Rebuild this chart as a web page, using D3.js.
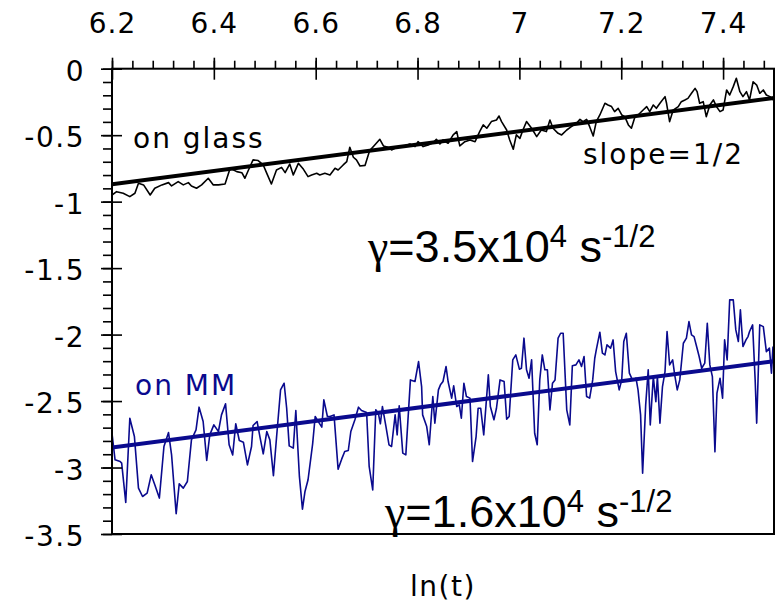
<!DOCTYPE html>
<html>
<head>
<meta charset="utf-8">
<script src="https://cdn.jsdelivr.net/npm/d3@7"></script>
<style>
  html, body { margin: 0; padding: 0; background: #fff; }
  svg { display: block; }
</style>
</head>
<body>
<svg id="chart" width="776" height="604"></svg>
<script>
// Axis tick labels
const xTicks = [6.2, 6.4, 6.6, 6.8, 7, 7.2, 7.4];
const yTicks = [0, -0.5, -1, -1.5, -2, -2.5, -3, -3.5];

// Signal on glass versus ln(t)
const glassLnT = [
  6.200, 6.209, 6.222, 6.235, 6.245, 6.252, 6.262, 6.275, 6.284, 6.298,
  6.311, 6.317, 6.330, 6.340, 6.350, 6.356, 6.366, 6.376, 6.389, 6.399,
  6.409, 6.422, 6.432, 6.445, 6.455, 6.461, 6.468, 6.477, 6.487, 6.497,
  6.504, 6.513, 6.523, 6.533, 6.540, 6.549, 6.556, 6.566, 6.576, 6.585,
  6.592, 6.602, 6.608, 6.618, 6.628, 6.638, 6.644, 6.654, 6.661, 6.667,
  6.674, 6.680, 6.687, 6.697, 6.706, 6.716, 6.726, 6.733, 6.742, 6.749,
  6.759, 6.772, 6.785, 6.795, 6.801, 6.811, 6.821, 6.831, 6.837, 6.844,
  6.850, 6.860, 6.870, 6.877, 6.883, 6.893, 6.903, 6.913, 6.922, 6.929,
  6.936, 6.945, 6.955, 6.960, 6.965, 6.975, 6.981, 6.988, 6.994, 7.001,
  7.007, 7.014, 7.024, 7.034, 7.043, 7.053, 7.060, 7.066, 7.076, 7.083,
  7.093, 7.102, 7.112, 7.119, 7.125, 7.132, 7.138, 7.145, 7.151, 7.158,
  7.168, 7.174, 7.181, 7.187, 7.194, 7.201, 7.207, 7.214, 7.220, 7.227,
  7.233, 7.243, 7.250, 7.256, 7.263, 7.269, 7.276, 7.286, 7.289, 7.295,
  7.302, 7.312, 7.318, 7.325, 7.331, 7.338, 7.345, 7.349, 7.354, 7.361,
  7.367, 7.374, 7.381, 7.387, 7.394, 7.400, 7.407, 7.413, 7.420, 7.426,
  7.433, 7.439, 7.446, 7.452, 7.459, 7.466, 7.472, 7.479, 7.485, 7.492,
  7.498
];
const glassSignal = [
  -0.950, -0.925, -0.937, -0.962, -0.937, -0.862, -0.874, -0.950, -0.899, -0.874,
  -0.857, -0.882, -0.849, -0.874, -0.857, -0.882, -0.899, -0.874, -0.824, -0.874,
  -0.874, -0.867, -0.749, -0.774, -0.782, -0.824, -0.762, -0.686, -0.691, -0.724,
  -0.787, -0.867, -0.762, -0.742, -0.782, -0.717, -0.799, -0.712, -0.757, -0.812,
  -0.799, -0.787, -0.799, -0.787, -0.799, -0.749, -0.762, -0.724, -0.699, -0.591,
  -0.666, -0.686, -0.732, -0.727, -0.616, -0.574, -0.531, -0.581, -0.591, -0.611,
  -0.591, -0.586, -0.566, -0.586, -0.549, -0.586, -0.574, -0.556, -0.531, -0.566,
  -0.536, -0.561, -0.498, -0.473, -0.581, -0.549, -0.536, -0.549, -0.473, -0.423,
  -0.448, -0.398, -0.386, -0.356, -0.398, -0.461, -0.536, -0.606, -0.498, -0.524,
  -0.461, -0.398, -0.448, -0.511, -0.461, -0.473, -0.386, -0.448, -0.486, -0.498,
  -0.461, -0.436, -0.411, -0.381, -0.398, -0.381, -0.436, -0.506, -0.398, -0.348,
  -0.260, -0.273, -0.285, -0.323, -0.298, -0.348, -0.361, -0.423, -0.448, -0.361,
  -0.348, -0.311, -0.285, -0.323, -0.273, -0.298, -0.260, -0.210, -0.260, -0.398,
  -0.311, -0.285, -0.248, -0.235, -0.223, -0.185, -0.148, -0.173, -0.260, -0.248,
  -0.361, -0.273, -0.235, -0.285, -0.323, -0.311, -0.160, -0.198, -0.135, -0.072,
  -0.173, -0.210, -0.173, -0.235, -0.098, -0.123, -0.185, -0.160, -0.198, -0.210,
  -0.235
];

// Signal on MM versus ln(t)
const mmLnT = [
  6.200, 6.206, 6.216, 6.219, 6.227, 6.235, 6.244, 6.252, 6.260, 6.269,
  6.277, 6.284, 6.293, 6.302, 6.311, 6.317, 6.326, 6.332, 6.340, 6.348,
  6.356, 6.365, 6.371, 6.379, 6.386, 6.392, 6.400, 6.409, 6.415, 6.423,
  6.430, 6.437, 6.443, 6.450, 6.458, 6.466, 6.474, 6.477, 6.485, 6.491,
  6.497, 6.504, 6.510, 6.517, 6.523, 6.531, 6.538, 6.543, 6.548, 6.556,
  6.561, 6.568, 6.574, 6.579, 6.585, 6.594, 6.599, 6.607, 6.612, 6.616,
  6.623, 6.628, 6.636, 6.644, 6.651, 6.657, 6.664, 6.669, 6.677, 6.684,
  6.690, 6.700, 6.705, 6.712, 6.718, 6.723, 6.727, 6.731, 6.738, 6.744,
  6.749, 6.756, 6.760, 6.764, 6.771, 6.777, 6.786, 6.795, 6.802, 6.808,
  6.810, 6.818, 6.823, 6.830, 6.834, 6.841, 6.845, 6.850, 6.856, 6.860,
  6.867, 6.871, 6.877, 6.882, 6.886, 6.891, 6.896, 6.903, 6.908, 6.915,
  6.919, 6.924, 6.930, 6.939, 6.943, 6.950, 6.955, 6.962, 6.970, 6.975,
  6.980, 6.987, 6.993, 7.000, 7.004, 7.009, 7.014, 7.019, 7.024, 7.030,
  7.035, 7.040, 7.045, 7.050, 7.055, 7.060, 7.065, 7.070, 7.076, 7.081,
  7.086, 7.093, 7.099, 7.104, 7.111, 7.117, 7.122, 7.127, 7.132, 7.138,
  7.144, 7.148, 7.151, 7.158, 7.163, 7.168, 7.172, 7.179, 7.184, 7.189,
  7.196, 7.201, 7.205, 7.210, 7.216, 7.222, 7.229, 7.233, 7.238, 7.242,
  7.248, 7.253, 7.257, 7.263, 7.268, 7.271, 7.276, 7.281, 7.286, 7.290,
  7.295, 7.301, 7.305, 7.310, 7.315, 7.322, 7.328, 7.333, 7.338, 7.343,
  7.348, 7.353, 7.358, 7.364, 7.369, 7.374, 7.379, 7.384, 7.388, 7.394,
  7.399, 7.403, 7.408, 7.413, 7.420, 7.425, 7.430, 7.434, 7.439, 7.445,
  7.449, 7.452, 7.458, 7.463, 7.466, 7.472, 7.479, 7.485, 7.491, 7.495,
  7.498
];
const mmSignal = [
  -2.742, -2.942, -2.955, -2.967, -3.263, -2.629, -2.767, -3.155, -3.218, -3.193,
  -3.055, -3.130, -3.230, -2.842, -2.737, -2.905, -3.348, -3.123, -3.155, -3.105,
  -2.792, -2.717, -2.546, -2.654, -2.947, -2.754, -2.679, -2.729, -2.604, -2.521,
  -2.829, -2.905, -2.671, -2.797, -2.809, -2.980, -2.842, -2.684, -2.654, -2.779,
  -2.897, -2.729, -2.792, -3.062, -2.779, -2.416, -2.366, -2.554, -2.837, -2.854,
  -2.571, -3.067, -3.313, -3.180, -3.092, -2.822, -2.616, -2.666, -2.696, -2.491,
  -2.616, -2.616, -2.604, -3.012, -2.937, -2.879, -2.872, -2.729, -2.641, -2.546,
  -2.571, -2.586, -2.992, -3.168, -2.566, -2.591, -2.671, -2.541, -2.692, -2.829,
  -2.842, -2.604, -2.754, -2.536, -2.892, -2.905, -2.341, -2.353, -2.203, -2.391,
  -2.604, -2.692, -2.829, -2.466, -2.666, -2.416, -2.378, -2.353, -2.240, -2.353,
  -2.478, -2.386, -2.541, -2.529, -2.629, -2.366, -2.466, -2.478, -2.955, -2.767,
  -2.554, -2.554, -2.754, -2.303, -2.541, -2.641, -2.554, -2.341, -2.353, -2.636,
  -2.616, -2.190, -2.153, -2.260, -2.253, -2.027, -2.265, -2.328, -2.190, -2.742,
  -2.829, -2.341, -2.153, -2.265, -2.265, -2.566, -2.366, -2.341, -2.027, -1.990,
  -1.990, -2.566, -2.679, -2.235, -2.228, -2.190, -2.240, -2.165, -2.466, -2.478,
  -2.341, -2.178, -2.115, -1.982, -2.140, -2.153, -2.077, -2.102, -2.040, -2.278,
  -2.416, -2.341, -2.052, -1.990, -2.290, -2.341, -2.328, -2.416, -2.604, -3.042,
  -2.529, -2.265, -2.679, -2.316, -2.504, -2.316, -2.666, -2.391, -2.278, -1.977,
  -2.228, -2.190, -2.303, -2.416, -2.341, -2.065, -2.027, -1.902, -2.002, -2.015,
  -2.090, -2.165, -2.253, -2.215, -1.915, -2.228, -2.316, -2.882, -2.441, -2.328,
  -2.478, -2.040, -2.190, -1.739, -1.739, -1.965, -2.052, -1.814, -2.090, -2.040,
  -2.015, -1.977, -1.927, -2.341, -2.666, -1.927, -1.940, -2.128, -2.102, -2.290,
  -2.090
];

// Slope-1/2 fits
const glassFitLnT = [6.2, 7.5];
const glassFitSignal = [-0.87, -0.22];
const mmFitLnT = [6.2, 7.5];
const mmFitSignal = [-2.85, -2.20];

const BLUE = "#0a0a8e";
const LABEL_FONT = "'DejaVu Sans', sans-serif";
const GAMMA_FONT = "'Liberation Sans', Arial, sans-serif";
const GREEK_FONT = "'Liberation Serif', 'DejaVu Serif', serif";

const svg = d3.select("#chart");
const plotLeft = 112, plotRight = 774, plotTop = 68.7, plotBottom = 534;

const x = d3.scaleLinear().domain([6.2, 7.5]).range([plotLeft, plotRight]);
const y = d3.scaleLinear().domain([-3.5, 0]).range([plotBottom, plotTop]);

const pairs = (xs, ys) => xs.map((v, i) => [v, ys[i]]);
const line = d3.line().x(d => x(d[0])).y(d => y(d[1]));

svg.append("defs").append("clipPath").attr("id", "plot-clip")
  .append("rect").attr("x", plotLeft).attr("y", plotTop)
  .attr("width", plotRight - plotLeft).attr("height", plotBottom - plotTop);

const plot = svg.append("g").attr("clip-path", "url(#plot-clip)");

// Raw traces
plot.append("path").datum(pairs(glassLnT, glassSignal))
  .attr("d", line).attr("fill", "none").attr("stroke", "#000")
  .attr("stroke-width", 1.6).attr("stroke-linejoin", "round");
plot.append("path").datum(pairs(mmLnT, mmSignal))
  .attr("d", line).attr("fill", "none").attr("stroke", BLUE)
  .attr("stroke-width", 1.6).attr("stroke-linejoin", "round");

// Fit lines
plot.append("path").datum(pairs(glassFitLnT, glassFitSignal))
  .attr("d", line).attr("fill", "none").attr("stroke", "#000")
  .attr("stroke-width", 4);
plot.append("path").datum(pairs(mmFitLnT, mmFitSignal))
  .attr("d", line).attr("fill", "none").attr("stroke", BLUE)
  .attr("stroke-width", 4);

// Frame
svg.append("rect").attr("x", plotLeft).attr("y", plotTop)
  .attr("width", plotRight - plotLeft).attr("height", plotBottom - plotTop)
  .attr("fill", "none").attr("stroke", "#000").attr("stroke-width", 2);

const fmt = d => String(d);
const xMinor = d3.range(0, 33).map(i => 6.2 + i * 0.04).filter(v => v <= 7.5);
const yMinor = d3.range(0, 36).map(i => -i * 0.1);

function styleAxis(g, width) {
  g.select(".domain").remove();
  g.selectAll(".tick line").attr("stroke", "#000").attr("stroke-width", width);
}

// Top axis: minor ticks outward, major ticks crossing the frame
svg.append("g").attr("transform", `translate(0,${plotTop})`)
  .call(d3.axisTop(x).tickValues(xMinor).tickSize(8).tickFormat(""))
  .call(g => styleAxis(g, 1.6));
svg.append("g").attr("transform", `translate(0,${plotTop})`)
  .call(d3.axisBottom(x).tickValues(xTicks).tickSize(11).tickFormat(""))
  .call(g => styleAxis(g, 1.6));
svg.append("g").attr("transform", `translate(0,${plotTop})`)
  .call(d3.axisTop(x).tickValues(xTicks).tickSize(11).tickPadding(25).tickFormat(fmt))
  .call(g => {
    styleAxis(g, 1.6);
    g.selectAll("text").attr("font-family", LABEL_FONT).attr("font-size", 28)
      .attr("letter-spacing", 1).attr("fill", "#000");
  });

// Left axis
svg.append("g").attr("transform", `translate(${plotLeft},0)`)
  .call(d3.axisLeft(y).tickValues(yMinor).tickSize(9).tickFormat(""))
  .call(g => styleAxis(g, 1.6));
svg.append("g").attr("transform", `translate(${plotLeft},0)`)
  .call(d3.axisRight(y).tickValues(yTicks).tickSize(10).tickFormat(""))
  .call(g => styleAxis(g, 1.6));
svg.append("g").attr("transform", `translate(${plotLeft},0)`)
  .call(d3.axisLeft(y).tickValues(yTicks).tickSize(11).tickPadding(16).tickFormat(fmt))
  .call(g => {
    styleAxis(g, 1.6);
    g.selectAll("text").attr("font-family", LABEL_FONT).attr("font-size", 28)
      .attr("letter-spacing", 1.5).attr("fill", "#000").attr("dy", "0.42em");
  });

// Axis title
svg.append("text").attr("x", (plotLeft + plotRight) / 2).attr("y", 596)
  .attr("text-anchor", "middle").attr("font-family", LABEL_FONT)
  .attr("font-size", 28).attr("letter-spacing", 1.5).text("ln(t)");

// Annotations
svg.append("text").attr("x", 133).attr("y", 148)
  .attr("font-family", LABEL_FONT).attr("font-size", 28).attr("letter-spacing", 2)
  .attr("fill", "#000").text("on glass");
svg.append("text").attr("x", 583).attr("y", 164)
  .attr("font-family", LABEL_FONT).attr("font-size", 28).attr("letter-spacing", 2)
  .attr("fill", "#000").text("slope=1/2");
svg.append("text").attr("x", 135).attr("y", 395)
  .attr("font-family", LABEL_FONT).attr("font-size", 28).attr("letter-spacing", 2)
  .attr("fill", BLUE).text("on MM");

function gammaLabel(xPos, yPos, mantissa) {
  const t = svg.append("text").attr("x", xPos).attr("y", yPos)
    .attr("font-family", GAMMA_FONT).attr("font-size", 45).attr("fill", "#000");
  t.append("tspan").attr("font-family", GREEK_FONT).attr("font-size", 46).text("γ");
  t.append("tspan").text("=" + mantissa + "x10");
  t.append("tspan").attr("font-size", 31).attr("dy", -15).text("4");
  t.append("tspan").attr("dy", 15).text(" s");
  t.append("tspan").attr("font-size", 31).attr("dy", -15).text("-1/2");
}
gammaLabel(368, 262, "3.5");
gammaLabel(385, 527, "1.6");
</script>
</body>
</html>
